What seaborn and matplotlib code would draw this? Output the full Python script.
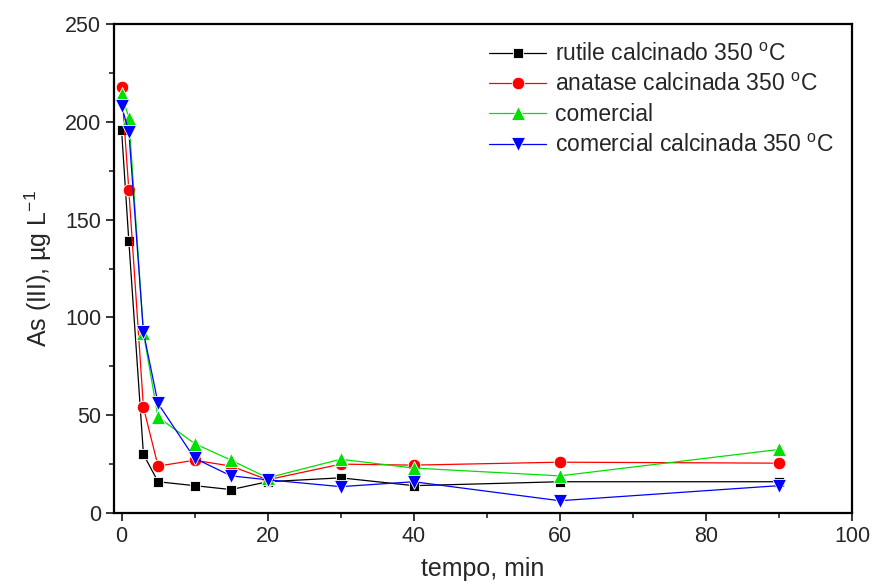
import numpy as np
import pandas as pd
import matplotlib
matplotlib.use("Agg")
import matplotlib.pyplot as plt
import seaborn as sns
from matplotlib.ticker import MultipleLocator

tempo = [0, 1, 3, 5, 10, 15, 20, 30, 40, 60, 90]
rutile = [196, 139, 30, 16, 14, 12, 16, 18, 14, 16, 16]
anatase = [218, 165, 54, 24, 27, 24, 17, 25, 24.5, 26, 25.5]
comercial = [214, 202, 92, 49, 35.5, 27, 18, 27.5, 23, 19, 32.5]
comercial_calc = [208, 195, 92.5, 56, 28, 19, 17, 13.5, 16, 6.3, 14]

labels = ["rutile calcinado 350 $^{\\mathrm{o}}$C",
          "anatase calcinada 350 $^{\\mathrm{o}}$C",
          "comercial",
          "comercial calcinada 350 $^{\\mathrm{o}}$C"]
colors = ["#000000", "#ff0000", "#00e000", "#0000ff"]
markers = ["s", "o", "^", "v"]
sizes = [7.5, 9, 10, 10]

series = [rutile, anatase, comercial, comercial_calc]
df = pd.concat([pd.DataFrame({"tempo": tempo, "As": s, "serie": lab})
                for s, lab in zip(series, labels)], ignore_index=True)

sns.set_style("ticks")
plt.rcParams["font.family"] = ["Liberation Sans", "DejaVu Sans"]
plt.rcParams["mathtext.fontset"] = "custom"
plt.rcParams["mathtext.rm"] = "Liberation Sans"

fig = plt.figure(figsize=(8.72, 5.85), dpi=100)
ax = fig.add_axes([0.131, 0.123, 0.846, 0.836])

for lab, c, m, ms in zip(labels, colors, markers, sizes):
    sub = df[df["serie"] == lab]
    sns.lineplot(data=sub, x="tempo", y="As", ax=ax, color=c, marker=m,
                 markersize=ms, markeredgecolor="white", markeredgewidth=0.6,
                 linewidth=0.9, label=lab, sort=False, estimator=None)

ax.set_xlim(-1, 100)
ax.set_ylim(0, 250)
ax.xaxis.set_major_locator(MultipleLocator(20))
ax.xaxis.set_minor_locator(MultipleLocator(10))
ax.yaxis.set_major_locator(MultipleLocator(50))
ax.yaxis.set_minor_locator(MultipleLocator(25))
ax.tick_params(which="major", direction="out", length=6, width=1.3, labelsize=15.5)
ax.tick_params(which="minor", direction="out", length=3.5, width=1.2)
for sp in ax.spines.values():
    sp.set_visible(True)
    sp.set_linewidth(1.6)
    sp.set_color("black")

ax.set_xlabel("tempo, min", fontsize=18, labelpad=7)
ax.set_ylabel("As (III), \u00b5g L$^{\\mathrm{-1}}$", fontsize=18, labelpad=8)

leg = ax.legend(loc="upper right", frameon=False, fontsize=16.5, handlelength=2.5,
                bbox_to_anchor=(0.995, 0.99), labelspacing=0.32, handletextpad=0.4,
                borderaxespad=0.2)

fig.savefig("out.png", dpi=100)
